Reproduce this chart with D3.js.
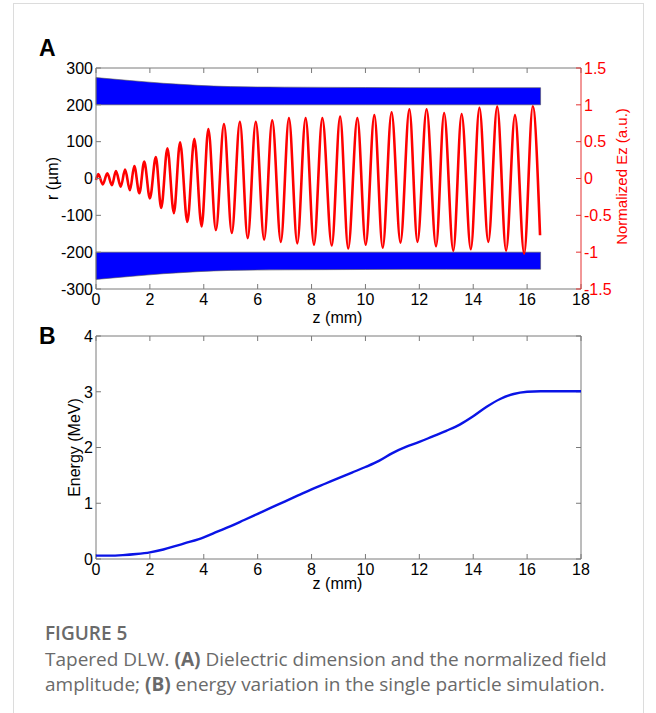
<!DOCTYPE html>
<html><head><meta charset="utf-8">
<script src="https://cdnjs.cloudflare.com/ajax/libs/d3/7.8.5/d3.min.js"></script>
<style>
html,body{margin:0;padding:0;background:#fff;}
svg{display:block;}
</style></head>
<body>
<svg id="chart" width="656" height="713"></svg>
<script>
// ---------- DATA ----------
// Panel A: dielectric outer radius (µm) vs z (mm); inner radius 200 µm
const dielZ = [0, 1.25, 2.5, 3.75, 5, 7, 10, 13, 16.5];
const dielOuter = [274, 266, 258.5, 253, 249.5, 248, 247, 246.5, 246.5];
const dielInner = 200;
// Panel A: normalized Ez extrema (z in mm, value a.u.)
const waveZ = [0, 0.085, 0.25, 0.42, 0.59, 0.74, 0.92, 1.08, 1.26, 1.42, 1.61, 1.79, 2.00, 2.22, 2.42, 2.65, 2.89, 3.12, 3.39, 3.65, 3.92, 4.17, 4.45, 4.75, 5.04, 5.34, 5.63, 5.93, 6.24, 6.54, 6.86, 7.16, 7.47, 7.78, 8.09, 8.40, 8.75, 9.06, 9.36, 9.70, 10.01, 10.33, 10.64, 10.97, 11.30, 11.63, 11.93, 12.27, 12.62, 12.92, 13.26, 13.57, 13.91, 14.23, 14.56, 14.89, 15.22, 15.55, 15.89, 16.21, 16.48];
const waveEz = [-0.02, 0.06, -0.08, 0.07, -0.09, 0.10, -0.11, 0.12, -0.16, 0.17, -0.20, 0.23, -0.27, 0.29, -0.40, 0.41, -0.47, 0.49, -0.59, 0.54, -0.65, 0.67, -0.70, 0.74, -0.74, 0.77, -0.81, 0.77, -0.83, 0.79, -0.86, 0.82, -0.88, 0.82, -0.90, 0.82, -0.91, 0.84, -0.95, 0.82, -0.90, 0.86, -0.94, 0.90, -0.87, 0.94, -0.86, 0.94, -0.92, 0.89, -0.98, 0.875, -0.96, 0.96, -0.86, 0.975, -0.98, 0.86, -1.02, 0.98, -0.77];
// Panel B: energy (MeV) vs z (mm)
const energyZ = [0, 0.5, 1, 1.5, 2, 2.5, 3, 3.5, 4, 4.5, 5, 5.5, 6, 6.5, 7, 7.5, 8, 8.5, 9, 9.5, 10, 10.5, 11, 11.5, 12, 12.5, 13, 13.5, 14, 14.5, 15, 15.5, 16, 16.5, 17, 17.5, 18];
const energyE = [0.06, 0.06, 0.07, 0.09, 0.12, 0.17, 0.24, 0.31, 0.39, 0.49, 0.59, 0.70, 0.81, 0.92, 1.03, 1.14, 1.25, 1.35, 1.45, 1.55, 1.65, 1.76, 1.90, 2.01, 2.10, 2.20, 2.30, 2.41, 2.56, 2.73, 2.87, 2.96, 3.00, 3.01, 3.01, 3.01, 3.01];
// Ticks
const zTicks = [0, 2, 4, 6, 8, 10, 12, 14, 16, 18];
const rTicks = [-300, -200, -100, 0, 100, 200, 300];
const ezTicks = [-1.5, -1, -0.5, 0, 0.5, 1, 1.5];
const eTicks = [0, 1, 2, 3, 4];

// ---------- LAYOUT ----------
const svg = d3.select("#chart");
const FONT = "'Liberation Sans', Arial, sans-serif";
const FS = 16;
const AX = "#7a7a7a";
const A = {l: 96, r: 581, t: 68, b: 289};
const B = {l: 96, r: 581, t: 336, b: 559};
const TL = 5;

// figure frame
svg.append("rect").attr("x", 13.5).attr("y", 3.5).attr("width", 630).attr("height", 720)
  .attr("fill", "none").attr("stroke", "#dcdcdc").attr("stroke-width", 1);

// ---------- PANEL A ----------
const xA = d3.scaleLinear().domain([0, 18]).range([A.l, A.r]);
const yR = d3.scaleLinear().domain([-300, 300]).range([A.b, A.t]);
const yEz = d3.scaleLinear().domain([-1.5, 1.5]).range([A.b, A.t]);

const diel = dielZ.map((z, i) => ({z, o: dielOuter[i]}));
const areaTop = d3.area().x(d => xA(d.z)).y0(yR(dielInner)).y1(d => yR(d.o)).curve(d3.curveMonotoneX);
const areaBot = d3.area().x(d => xA(d.z)).y0(yR(-dielInner)).y1(d => yR(-d.o)).curve(d3.curveMonotoneX);
svg.append("path").datum(diel).attr("d", areaTop).attr("fill", "#0000ff").attr("stroke", "#555").attr("stroke-width", 0.6);
svg.append("path").datum(diel).attr("d", areaBot).attr("fill", "#0000ff").attr("stroke", "#555").attr("stroke-width", 0.6);

const wave = waveZ.map((z, i) => ({z, v: waveEz[i]}));
svg.append("path").datum(wave)
  .attr("d", d3.line().x(d => xA(d.z)).y(d => yEz(d.v)).curve(d3.curveMonotoneX))
  .attr("fill", "none").attr("stroke", "#ff0000").attr("stroke-width", 2.6);

function boxAxes(P, xS, yS, xT, yT) {
  const g = svg.append("g");
  xT.forEach(v => {
    g.append("line").attr("x1", xS(v)).attr("x2", xS(v)).attr("y1", P.b).attr("y2", P.b - TL).attr("stroke", AX);
    g.append("line").attr("x1", xS(v)).attr("x2", xS(v)).attr("y1", P.t).attr("y2", P.t + TL).attr("stroke", AX);
    g.append("text").attr("x", xS(v)).attr("y", P.b + 16).attr("text-anchor", "middle")
      .attr("font-family", FONT).attr("font-size", FS).attr("fill", "#000").text(v);
  });
  yT.forEach(v => {
    g.append("line").attr("x1", P.l).attr("x2", P.l + TL).attr("y1", yS(v)).attr("y2", yS(v)).attr("stroke", AX);
    g.append("text").attr("x", P.l - 3).attr("y", yS(v)).attr("dy", "0.36em").attr("text-anchor", "end")
      .attr("font-family", FONT).attr("font-size", FS).attr("fill", "#000").text(v);
  });
  g.append("line").attr("x1", P.l).attr("x2", P.r).attr("y1", P.t).attr("y2", P.t).attr("stroke", AX);
  g.append("line").attr("x1", P.l).attr("x2", P.r).attr("y1", P.b).attr("y2", P.b).attr("stroke", AX);
  g.append("line").attr("x1", P.l).attr("x2", P.l).attr("y1", P.t).attr("y2", P.b).attr("stroke", AX);
  return g;
}

boxAxes(A, xA, yR, zTicks, rTicks);
// right red axis
const gR = svg.append("g");
gR.append("line").attr("x1", A.r).attr("x2", A.r).attr("y1", A.t).attr("y2", A.b).attr("stroke", "#e53030");
ezTicks.forEach(v => {
  gR.append("line").attr("x1", A.r).attr("x2", A.r - TL).attr("y1", yEz(v)).attr("y2", yEz(v)).attr("stroke", "#e53030");
  gR.append("text").attr("x", A.r + 3).attr("y", yEz(v)).attr("dy", "0.36em")
    .attr("font-family", FONT).attr("font-size", FS).attr("fill", "#ff0000").text(v);
});
svg.append("text").attr("transform", `translate(622,${(A.t + A.b) / 2 - 2}) rotate(-90)`)
  .attr("text-anchor", "middle").attr("dy", "0.35em").attr("font-family", FONT).attr("font-size", 15)
  .attr("fill", "#ff0000").text("Normalized Ez (a.u.)");
svg.append("text").attr("transform", `translate(52,${(A.t + A.b) / 2}) rotate(-90)`)
  .attr("text-anchor", "middle").attr("dy", "0.35em").attr("font-family", FONT).attr("font-size", FS)
  .attr("fill", "#000").text("r (µm)");
svg.append("text").attr("x", (A.l + A.r) / 2 - 1).attr("y", 323).attr("text-anchor", "middle")
  .attr("font-family", FONT).attr("font-size", FS).attr("fill", "#000").text("z (mm)");
svg.append("text").attr("x", 39).attr("y", 56).attr("font-family", FONT).attr("font-weight", "bold")
  .attr("font-size", 23).attr("fill", "#000").text("A");

// ---------- PANEL B ----------
const xB = d3.scaleLinear().domain([0, 18]).range([B.l, B.r]);
const yE = d3.scaleLinear().domain([0, 4]).range([B.b, B.t]);
const gB = boxAxes(B, xB, yE, zTicks, eTicks);
gB.append("line").attr("x1", B.r).attr("x2", B.r).attr("y1", B.t).attr("y2", B.b).attr("stroke", AX);
eTicks.forEach(v => {
  gB.append("line").attr("x1", B.r).attr("x2", B.r - TL).attr("y1", yE(v)).attr("y2", yE(v)).attr("stroke", AX);
});
const energy = energyZ.map((z, i) => ({z, e: energyE[i]}));
svg.append("path").datum(energy)
  .attr("d", d3.line().x(d => xB(d.z)).y(d => yE(d.e)).curve(d3.curveMonotoneX))
  .attr("fill", "none").attr("stroke", "#0a14e6").attr("stroke-width", 2.4);
svg.append("text").attr("transform", `translate(74,${(B.t + B.b) / 2}) rotate(-90)`)
  .attr("text-anchor", "middle").attr("dy", "0.35em").attr("font-family", FONT).attr("font-size", FS)
  .attr("fill", "#000").text("Energy (MeV)");
svg.append("text").attr("x", (B.l + B.r) / 2 - 1).attr("y", 589).attr("text-anchor", "middle")
  .attr("font-family", FONT).attr("font-size", FS).attr("fill", "#000").text("z (mm)");
svg.append("text").attr("x", 39).attr("y", 344).attr("font-family", FONT).attr("font-weight", "bold")
  .attr("font-size", 23).attr("fill", "#000").text("B");

// ---------- CAPTION ----------
const CF = "'Open Sans', 'Noto Sans', sans-serif";
const CS = 19;
svg.append("text").attr("x", 45).attr("y", 640).attr("font-family", CF).attr("font-weight", 600)
  .attr("font-size", CS).attr("fill", "#6a6a6a").text("FIGURE 5");
const c1 = svg.append("text").attr("x", 45).attr("y", 666).attr("font-family", CF).attr("font-size", CS).attr("fill", "#6a6a6a");
c1.append("tspan").text("Tapered DLW. ");
c1.append("tspan").attr("font-weight", 700).text("(A)");
c1.append("tspan").text(" Dielectric dimension and the normalized field");
const c2 = svg.append("text").attr("x", 45).attr("y", 691).attr("font-family", CF).attr("font-size", CS).attr("fill", "#6a6a6a");
c2.append("tspan").text("amplitude; ");
c2.append("tspan").attr("font-weight", 700).text("(B)");
c2.append("tspan").text(" energy variation in the single particle simulation.");
</script>
</body></html>
